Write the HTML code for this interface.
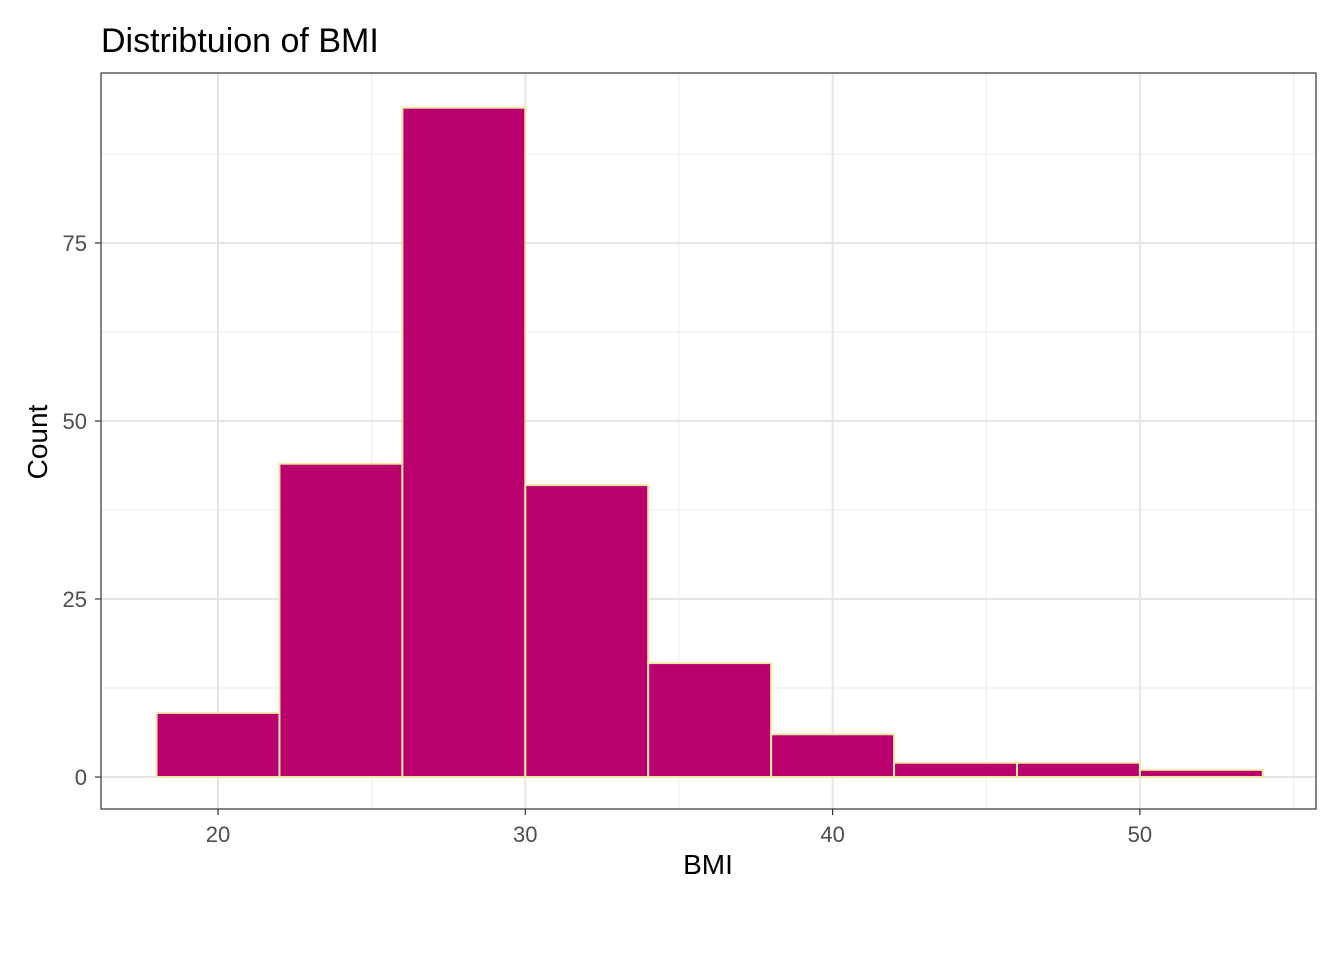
<!DOCTYPE html>
<html><head><meta charset="utf-8"><style>
body{margin:0;background:#fff;}
svg{display:block;font-family:"Liberation Sans",Arial,sans-serif;}
</style></head><body>
<svg id="chart" width="1344" height="960">
<rect width="1344" height="960" fill="#fff"/>
<text x="101" y="52" font-size="34" fill="#000">Distribtuion of BMI</text>
<g id="grid"></g>
<g id="bars"></g>
<rect x="101" y="73" width="1215" height="736" fill="none" stroke="#333" stroke-width="1.2"/>
<g id="axes"></g>
<text x="708" y="874" font-size="28" text-anchor="middle" fill="#000">BMI</text>
<text transform="translate(47,442) rotate(-90)" font-size="28" text-anchor="middle" fill="#000">Count</text>
</svg>
<script>
const binStarts=[18,22,26,30,34,38,42,46,50];
const binWidth=4;
const counts=[9,44,94,41,16,6,2,2,1];
const xTicks=[20,30,40,50];
const xMinor=[25,35,45,55];
const yTicks=[0,25,50,75];
const yMinor=[12.5,37.5,62.5,87.5];
const NS="http://www.w3.org/2000/svg";
const x=v=>218+(v-20)*30.73;
const y=v=>777-v*7.12;
const L=101,R=1316,T=73,B=809;
function mk(tag,attrs,parent){const e=document.createElementNS(NS,tag);for(const k in attrs)e.setAttribute(k,attrs[k]);parent.appendChild(e);return e;}
const grid=document.getElementById('grid'),bars=document.getElementById('bars'),axes=document.getElementById('axes');
xMinor.forEach(v=>{const e=mk('line',{x1:x(v),x2:x(v),y1:T,y2:B,stroke:'#ebebeb','stroke-width':1},grid);

});
yMinor.forEach(v=>{const e=mk('line',{x1:L,x2:R,y1:y(v),y2:y(v),stroke:'#ebebeb','stroke-width':1},grid);

});
xTicks.forEach(v=>{const e=mk('line',{x1:x(v),x2:x(v),y1:T,y2:B,stroke:'#e5e5e5','stroke-width':2},grid);


const t=mk('line',{x1:x(v),x2:x(v),y1:B,y2:B+6,stroke:'#333','stroke-width':1.2},axes);


const l=mk('text',{x:x(v),y:B+33,'font-size':22,'text-anchor':'middle',fill:'#4d4d4d'},axes);l.textContent=v;

});
yTicks.forEach(v=>{const e=mk('line',{x1:L,x2:R,y1:y(v),y2:y(v),stroke:'#e5e5e5','stroke-width':2},grid);


const t=mk('line',{x1:L-6,x2:L,y1:y(v),y2:y(v),stroke:'#333','stroke-width':1.2},axes);


const l=mk('text',{x:L-14,y:y(v)+8,'font-size':22,'text-anchor':'end',fill:'#4d4d4d'},axes);l.textContent=v;

});
counts.forEach((c,i)=>{const x0=x(binStarts[i]),x1=x(binStarts[i]+binWidth);
const r=mk('rect',{x:x0,y:y(c),width:x1-x0,height:y(0)-y(c),fill:'#BA006D',stroke:'#EEE8AA','stroke-width':2},bars);

});
</script>
</body></html>
